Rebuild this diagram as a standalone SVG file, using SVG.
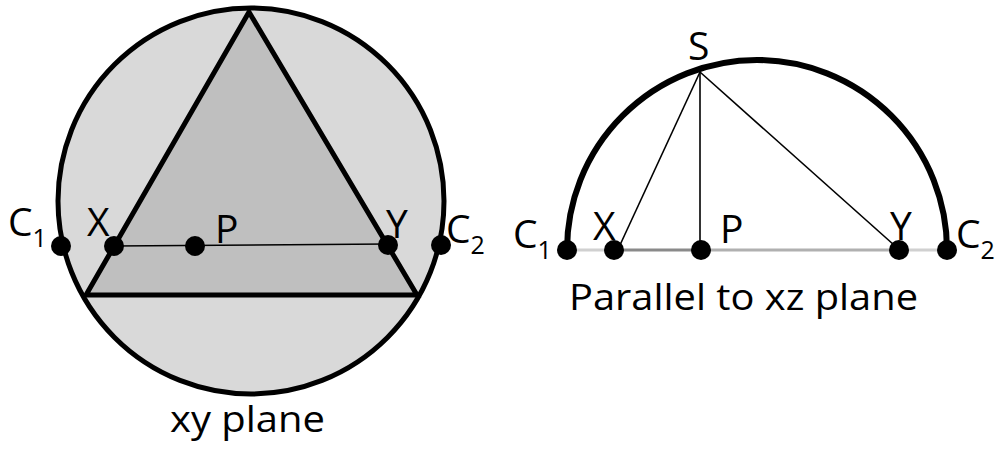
<svg xmlns="http://www.w3.org/2000/svg" width="1000" height="449" viewBox="0 0 1000 449">
<style>
.lbl{font-family:"Open Sans","Liberation Sans",sans-serif;font-size:39px;fill:#000}
.sub{font-size:25px}
.cap{font-family:"Open Sans","Liberation Sans",sans-serif;font-size:37px;fill:#000}
.dot{fill:#000}
.thin{stroke:#000;stroke-width:1.6;fill:none}
</style>
<rect width="1000" height="449" fill="#fff"/>
<g id="left-circle">
<circle cx="251" cy="201" r="193" fill="#d9d9d9" stroke="#000" stroke-width="5"/>
</g>
<g id="triangle">
<polygon points="249,12 86,295 417,295" fill="#bfbfbf" stroke="#000" stroke-width="5" stroke-linejoin="miter"/>
</g>
<g id="connectors">
<line x1="114" y1="246" x2="388" y2="244" class="thin" stroke-width="2"/>
<line x1="567" y1="250" x2="614" y2="250" stroke="#d0d0d0" stroke-width="3"/>
<line x1="614" y1="250" x2="701" y2="250" stroke="#8a8a8a" stroke-width="3"/>
<line x1="701" y1="250" x2="899" y2="250" stroke="#b0b0b0" stroke-width="3"/>
<line x1="899" y1="250" x2="947" y2="250" stroke="#d0d0d0" stroke-width="3"/>
<path d="M567,250 A190,190 0 0 1 947,250" fill="none" stroke="#000" stroke-width="6"/>
<line x1="700" y1="72" x2="620" y2="245" class="thin"/>
<line x1="700" y1="72" x2="700" y2="250" class="thin"/>
<line x1="700" y1="72" x2="894" y2="245" class="thin"/>
</g>
<g id="left-points">
<circle cx="61" cy="246" r="10" class="dot"/>
<circle cx="114" cy="246" r="10" class="dot"/>
<circle cx="195" cy="246" r="10" class="dot"/>
<circle cx="388" cy="245" r="10" class="dot"/>
<circle cx="441" cy="245" r="10" class="dot"/>
</g>
<g id="right-points">
<circle cx="567" cy="250" r="10" class="dot"/>
<circle cx="614" cy="250" r="10" class="dot"/>
<circle cx="701" cy="250" r="10" class="dot"/>
<circle cx="899" cy="250" r="10" class="dot"/>
<circle cx="947" cy="250" r="10" class="dot"/>
</g>
<g id="left-labels">
<text x="8" y="236" class="lbl">C<tspan class="sub" dy="11">1</tspan></text>
<text x="87" y="236" class="lbl">X</text>
<text x="215" y="243" class="lbl">P</text>
<text x="386" y="238" class="lbl">Y</text>
<text x="446" y="243" class="lbl">C<tspan class="sub" dy="11">2</tspan></text>
<text x="170" y="432" class="cap" textLength="155" lengthAdjust="spacingAndGlyphs">xy plane</text>
</g>
<g id="right-labels">
<text x="513" y="248" class="lbl">C<tspan class="sub" dy="11">1</tspan></text>
<text x="593" y="240" class="lbl">X</text>
<text x="720" y="243" class="lbl">P</text>
<text x="890" y="240" class="lbl">Y</text>
<text x="956" y="248" class="lbl">C<tspan class="sub" dy="11">2</tspan></text>
<text x="688" y="60" class="lbl">S</text>
<text x="569" y="310" class="cap" textLength="349" lengthAdjust="spacingAndGlyphs">Parallel to xz plane</text>
</g>
</svg>
